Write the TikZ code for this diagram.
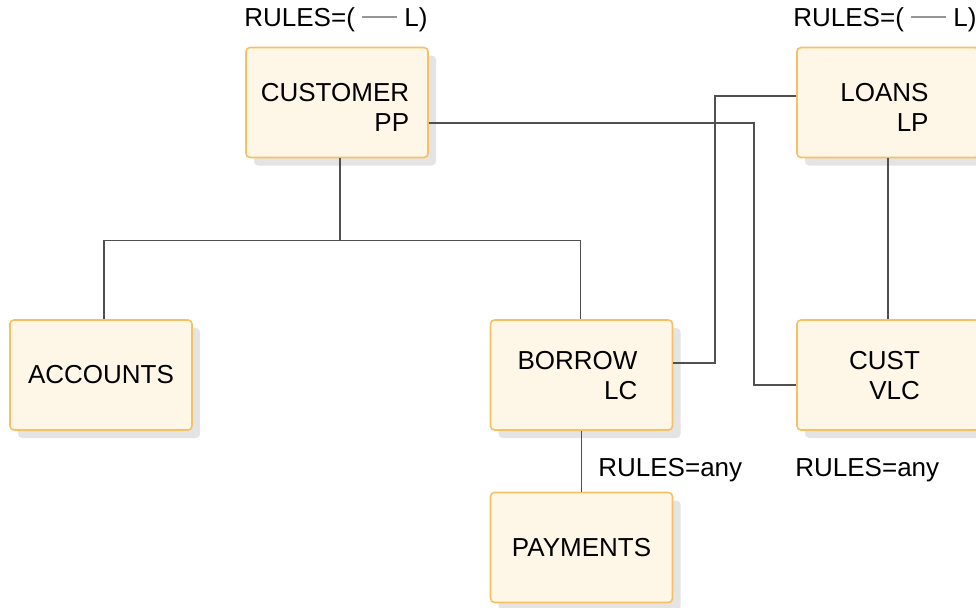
\documentclass[tikz,border=0pt]{standalone}
\usepackage{fontspec}
\setmainfont{Liberation Sans}
\usetikzlibrary{shadows,calc}
\definecolor{boxfill}{RGB}{254,246,230}
\definecolor{boxline}{RGB}{246,193,98}
\definecolor{shade}{RGB}{228,228,228}
\definecolor{connc}{RGB}{80,80,80}
\definecolor{dashc}{RGB}{150,150,150}
\tikzset{
  segbox/.style={draw=boxline, fill=boxfill, line width=0.8pt, rounded corners=2pt,
    minimum width=91pt, minimum height=55pt, inner sep=0pt,
    drop shadow={shadow xshift=4pt, shadow yshift=-4pt, fill=shade, opacity=1}},
  segtext/.style={align=right, inner sep=0pt, font=\fontsize{13}{15}\selectfont},
  rulestxt/.style={inner sep=0pt, font=\fontsize{13}{15}\selectfont},
  conn/.style={draw=connc, line width=0.75pt}
}
\newcommand{\longdash}{\textcolor{dashc}{\rule[0.32em]{17.5pt}{1pt}}}
\begin{document}
\begin{tikzpicture}[x=0.5pt, y=-0.5pt]
\useasboundingbox (0,0) rectangle (976,607);
% boxes
\node[segbox] (customer) at (337,102.5) {};
\node[segbox] (loans) at (888,102.5) {};
\node[segbox] (accounts) at (101,375) {};
\node[segbox] (borrow) at (581.5,375) {};
\node[segbox] (cust) at (888,375) {};
\node[segbox] (payments) at (581.5,547.5) {};
% texts
\node[segtext] (customert) at (335,107) {CUSTOMER\\PP};
\node[segtext] (loanst) at (884.5,107.5) {LOANS\\LP};
\node[segtext] (accountst) at (101,375) {ACCOUNTS};
\node[segtext] (borrowt) at (577.5,376) {BORROW\\LC};
\node[segtext] (custt) at (884.5,376) {CUST\\VLC};
\node[segtext] (paymentst) at (581.5,547.5) {PAYMENTS};
% rules labels
\node[rulestxt, anchor=base west] (r1) at (244,26) {RULES=( \longdash\ L)};
\node[rulestxt, anchor=base west] (r2) at (793,26) {RULES=( \longdash\ L)};
\node[rulestxt, anchor=base west] (r3) at (598,476) {RULES=any};
\node[rulestxt, anchor=base west] (r4) at (795,476) {RULES=any};
% connectors
\draw[conn] ($(customer.south)+(3,0)$) -- ($(customer.south)+(3,82)$) coordinate (fork);
\draw[conn] (fork) -| ($(accounts.north)+(3,0)$);
\draw[conn] (fork) -| ($(borrow.north)+(-1,0)$);
\draw[conn] ($(customer.east)+(0,20.5)$) -| ($(cust.west)+(-42,10)$) -- ($(cust.west)+(0,10)$);
\draw[conn] ($(loans.west)+(0,-6.5)$) -| ($(borrow.east)+(41.5,-12)$) -- ($(borrow.east)+(0,-12)$);
\draw[conn] (loans.south) -- (cust.north);
\draw[conn] (borrow.south) -- (payments.north);
\end{tikzpicture}
\end{document}
